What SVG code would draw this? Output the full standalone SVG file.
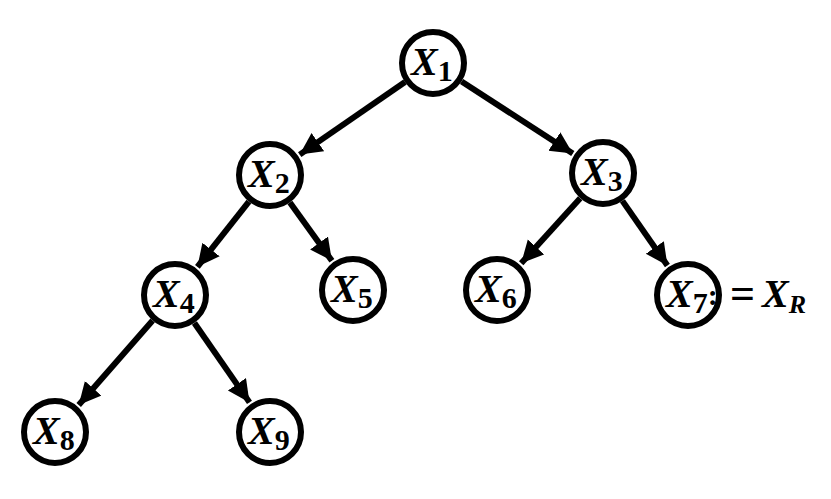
<svg xmlns="http://www.w3.org/2000/svg" width="831" height="499" viewBox="0 0 831 499">
<style>
.n{fill:#fff;stroke:#000;stroke-width:6}
.t{font-family:"Liberation Serif",serif;font-weight:bold;font-style:italic;font-size:40px}
.s{font-style:normal;font-size:30px}
.e{stroke:#000;stroke-width:6;fill:none;marker-end:url(#a)}
</style>
<defs><marker id="a" markerUnits="userSpaceOnUse" markerWidth="26" markerHeight="24" refX="22" refY="11" orient="auto"><path d="M0,0 L22,11 L0,22 Z" fill="#000"/></marker></defs>
<rect width="831" height="499" fill="#fff"/>
<g id="edges">
<line class="e" x1="405" y1="82" x2="299.7" y2="154.6"/>
<line class="e" x1="461.6" y1="81.5" x2="572.8" y2="153.5"/>
<line class="e" x1="248.9" y1="201.7" x2="197.4" y2="266.8"/>
<line class="e" x1="289.9" y1="202.6" x2="331.9" y2="260.8"/>
<line class="e" x1="580.2" y1="198.2" x2="521.2" y2="263.3"/>
<line class="e" x1="622.4" y1="200.9" x2="667.4" y2="265.5"/>
<line class="e" x1="152.6" y1="320.6" x2="78.7" y2="404.9"/>
<line class="e" x1="194.4" y1="323" x2="249.5" y2="402.4"/>
</g>
<g id="n1"><circle class="n" cx="433" cy="63" r="31"/><text class="t" x="411" y="75">X<tspan class="s" dy="6">1</tspan></text></g>
<g id="n2"><circle class="n" cx="270" cy="175" r="31"/><text class="t" x="248" y="187">X<tspan class="s" dy="6">2</tspan></text></g>
<g id="n3"><circle class="n" cx="603" cy="173" r="31"/><text class="t" x="581" y="185">X<tspan class="s" dy="6">3</tspan></text></g>
<g id="n4"><circle class="n" cx="175" cy="295" r="31"/><text class="t" x="153" y="307">X<tspan class="s" dy="6">4</tspan></text></g>
<g id="n5"><circle class="n" cx="353" cy="290" r="31"/><text class="t" x="331" y="302">X<tspan class="s" dy="6">5</tspan></text></g>
<g id="n6"><circle class="n" cx="497" cy="290" r="31"/><text class="t" x="475" y="302">X<tspan class="s" dy="6">6</tspan></text></g>
<g id="n7"><circle class="n" cx="688" cy="295" r="31"/><text class="t" x="666" y="307">X<tspan class="s" dy="6">7</tspan><tspan class="s" dy="-8">:</tspan></text>
<text class="t" x="730" y="308" style="font-style:normal;font-size:44px">=</text><text class="t" x="762" y="307">X<tspan dy="6" style="font-size:26px">R</tspan></text></g>
<g id="n8"><circle class="n" cx="55" cy="432" r="31"/><text class="t" x="33" y="444">X<tspan class="s" dy="6">8</tspan></text></g>
<g id="n9"><circle class="n" cx="270" cy="432" r="31"/><text class="t" x="248" y="444">X<tspan class="s" dy="6">9</tspan></text></g>
</svg>
